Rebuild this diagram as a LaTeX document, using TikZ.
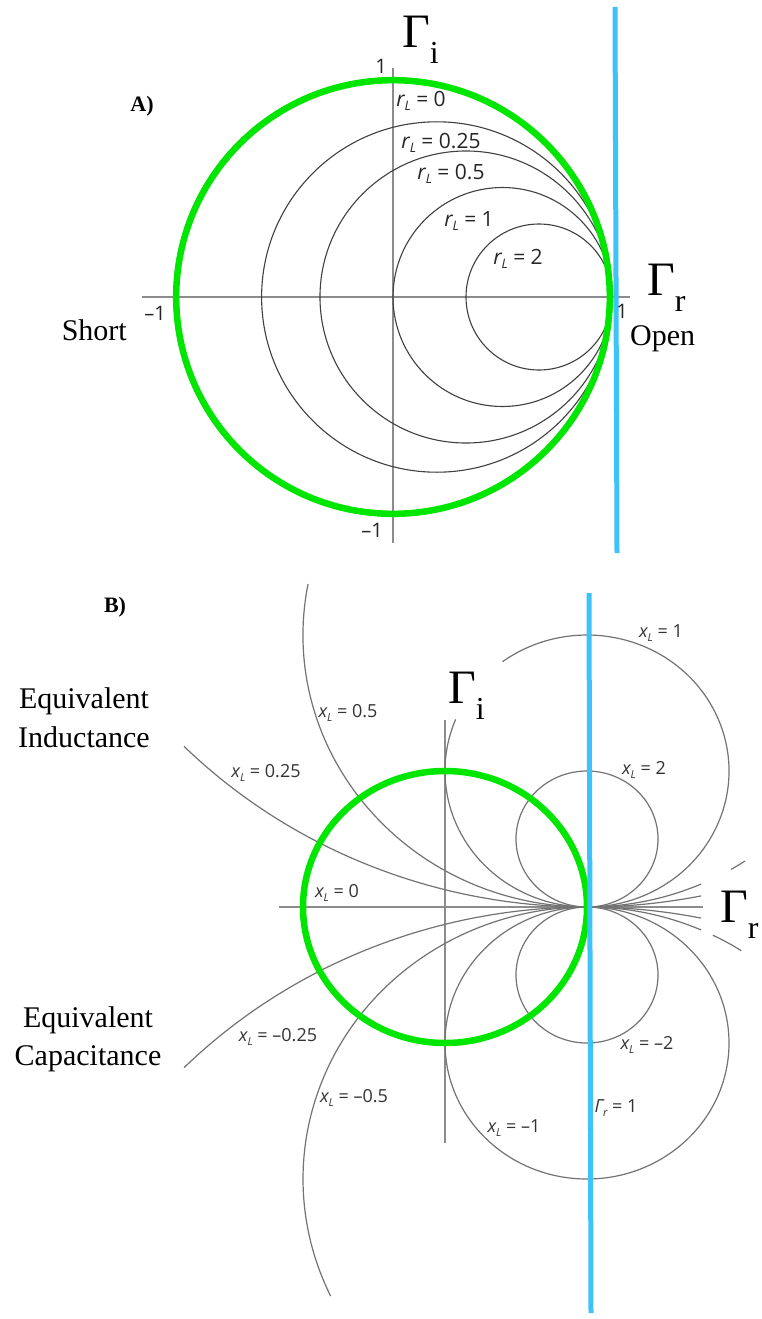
\documentclass[tikz,border=0pt]{standalone}
\usepackage{fontspec}
\setmainfont{Liberation Serif}
\newfontfamily\chartfont{Open Sans}
\definecolor{smithgreen}{RGB}{0,230,0}
\definecolor{openblue}{RGB}{60,195,250}

\newcommand\rval[1]{{\itshape r}\raisebox{-0.22em}{\fontsize{13}{13}\selectfont\itshape L} = #1}
\newcommand\xval[1]{{\itshape x}\raisebox{-0.22em}{\fontsize{11}{11}\selectfont\itshape L} = #1}
\newcommand\gsub[1]{Γ\raisebox{-16pt}{\fontsize{32}{32}\selectfont #1}}

\tikzset{
  axisline/.style={draw=black!45,line width=1.3pt},
  rcircle/.style={draw=black!75,line width=1.1pt},
  xcircle/.style={draw=black!55,line width=1.2pt},
  smith/.style={draw=smithgreen,line width=6.5pt},
  openline/.style={draw=openblue,line width=5pt},
  side text/.style={font=\fontsize{30}{30}\selectfont,inner sep=0pt},
  gamma text/.style={font=\fontsize{48}{48}\selectfont,inner sep=0pt},
  part text/.style={font=\bfseries\fontsize{22}{22}\selectfont,inner sep=0pt},
  rtext/.style={font=\chartfont\fontsize{21}{21}\selectfont,text=black!85,inner sep=0pt},
  xtext/.style={font=\chartfont\fontsize{18}{18}\selectfont,text=black!80,inner sep=0pt},
  ticktext/.style={font=\chartfont\fontsize{20}{20}\selectfont,text=black!85,inner sep=0pt}
}

\begin{document}
\begin{tikzpicture}[x=1pt,y=1pt]
  \useasboundingbox[fill=white] (0,0) rectangle (761,-1319);

  % A) constant resistance circles
  \path[axisline] (142,-297) -- (630,-297);
  \path[axisline] (393,-68) -- (393,-543);
  \begin{scope}[shift={(393pt,-297pt)},x=219pt,y=219pt]
    \foreach \r in {0,0.25,0.5,1,2}
      \path[rcircle] ({\r/(1+\r)},0) circle [radius={1/(1+\r)}];
    \path[smith] (0,0) circle [radius=0.99];
  \end{scope}
  \path[openline] (615,-7) -- (617,-553);

  \node[part text] (partA) at (142,-106) {A)};
  \node[gamma text,anchor=base west] (giA) at (402,-48) {\gsub{i}};
  \node[gamma text,anchor=base west] (grA) at (647,-295) {\gsub{r}};
  \node[side text,anchor=base east] (short) at (127,-340) {Short};
  \node[side text,anchor=base west] (open) at (630,-345) {Open};
  \node[ticktext] (tA1) at (381,-66) {1};
  \node[ticktext] (tA2) at (155,-313) {–1};
  \node[ticktext] (tA3) at (622,-311) {1};
  \node[ticktext] (tA4) at (372,-530) {–1};
  \node[rtext] (r0) at (421,-101) {\rval{0}};
  \node[rtext] (r1) at (441,-143) {\rval{0.25}};
  \node[rtext] (r2) at (451,-174) {\rval{0.5}};
  \node[rtext] (r3) at (469,-221) {\rval{1}};
  \node[rtext] (r4) at (518,-259) {\rval{2}};

  % B) constant reactance circles
  \begin{scope}[shift={(445pt,-907pt)},x=142pt,y=136pt]
    \path[axisline] (-1.169,0) -- (1.817,0);
    \path[axisline] (0,1.375) -- (0,-1.735);
    \path[xcircle] (1,0.5) circle [radius=0.5];
    \path[xcircle] (1,-0.5) circle [radius=0.5];
    \path[xcircle] (1,-1) circle [radius=1];
    \path[xcircle] ([shift={(157.7:1)}]1,1) arc [start angle=157.7,end angle=486.5,radius=1];
    \path[xcircle] ([shift={(169.2:2)}]1,2) arc [start angle=169.2,end angle=293.7,radius=2];
    \path[xcircle] ([shift={(300.5:2)}]1,2) arc [start angle=300.5,end angle=303.8,radius=2];
    \path[xcircle] ([shift={(66.3:2)}]1,-2) arc [start angle=66.3,end angle=205.5,radius=2];
    \path[xcircle] ([shift={(57.1:2)}]1,-2) arc [start angle=57.1,end angle=63.7,radius=2];
    \path[xcircle] ([shift={(224.8:4)}]1,4) arc [start angle=224.8,end angle=281.6,radius=4];
    \path[xcircle] ([shift={(78.4:4)}]1,-4) arc [start angle=78.4,end angle=135.2,radius=4];
    \path[smith] (0,0) circle [radius=1];
  \end{scope}
  \path[openline] (589,-593) -- (591,-1313);

  \node[part text] (partB) at (115,-607) {B)};
  \node[side text,anchor=base] (ind1) at (84,-708) {Equivalent};
  \node[side text,anchor=base] (ind2) at (84,-747) {Inductance};
  \node[side text,anchor=base] (cap1) at (88,-1027) {Equivalent};
  \node[side text,anchor=base] (cap2) at (88,-1065) {Capacitance};
  \node[gamma text,anchor=base west] (giB) at (448,-703) {\gsub{i}};
  \node[gamma text,anchor=base west] (grB) at (720,-922) {\gsub{r}};
  \node[xtext] (x1) at (348,-713) {\xval{0.5}};
  \node[xtext] (x2) at (266,-773) {\xval{0.25}};
  \node[xtext] (x3) at (337,-893) {\xval{0}};
  \node[xtext] (x4) at (278,-1037) {\xval{–0.25}};
  \node[xtext] (x5) at (354,-1098) {\xval{–0.5}};
  \node[xtext] (x6) at (661,-633) {\xval{1}};
  \node[xtext] (x7) at (644,-770) {\xval{2}};
  \node[xtext] (x8) at (647,-1045) {\xval{–2}};
  \node[xtext] (x9) at (514,-1128) {\xval{–1}};
  \node[xtext] (gr1) at (616,-1108) {{\itshape Γ}\raisebox{-0.22em}{\fontsize{11}{11}\selectfont\itshape r} = 1};
\end{tikzpicture}
\end{document}
